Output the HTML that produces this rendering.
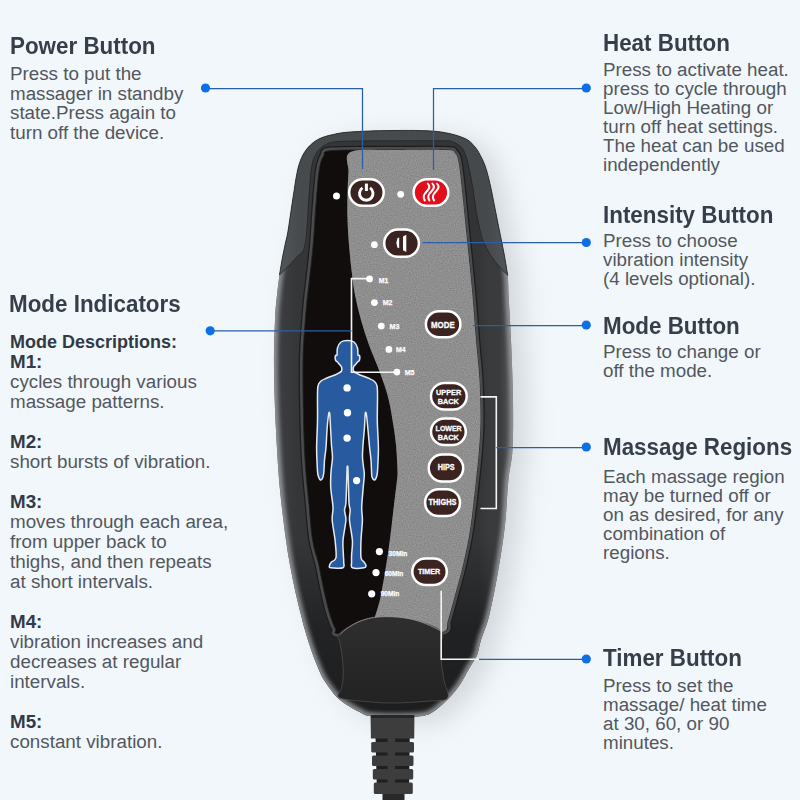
<!DOCTYPE html>
<html><head><meta charset="utf-8">
<style>
html,body{margin:0;padding:0;}
body{width:800px;height:800px;overflow:hidden;position:relative;background:#f2f7fb;font-family:"Liberation Sans",sans-serif;}
svg{position:absolute;left:0;top:0;}
.t{position:absolute;white-space:pre;color:#52575d;font-size:18.8px;line-height:19.5px;}
.h{position:absolute;white-space:pre;color:#363f49;font-size:22.4px;font-weight:bold;line-height:24px;transform:scaleY(1.06);transform-origin:0 19.8px;}
.b{font-weight:bold;color:#323b45;}
</style></head>
<body>
<svg width="800" height="800" viewBox="0 0 800 800">
<!-- REMOTE -->
<g id="remote">
<defs>
<linearGradient id="bodyg" gradientUnits="userSpaceOnUse" x1="273" y1="0" x2="514" y2="0">
<stop offset="0" stop-color="#404144"/>
<stop offset="0.1" stop-color="#353638"/>
<stop offset="0.85" stop-color="#333436"/>
<stop offset="0.9" stop-color="#3a3b3d"/>
<stop offset="0.94" stop-color="#3a3b3d"/>
<stop offset="1" stop-color="#5a5b5e"/>
</linearGradient>
<linearGradient id="lowg" gradientUnits="userSpaceOnUse" x1="0" y1="540" x2="0" y2="716">
<stop offset="0" stop-color="#000" stop-opacity="0"/>
<stop offset="0.5" stop-color="#000" stop-opacity="0.35"/>
<stop offset="1" stop-color="#000" stop-opacity="0.45"/>
</linearGradient>
<linearGradient id="shellg" gradientUnits="userSpaceOnUse" x1="275" y1="0" x2="510" y2="0">
<stop offset="0" stop-color="#55585b"/>
<stop offset="0.1" stop-color="#484b4e"/>
<stop offset="0.9" stop-color="#46494c"/>
<stop offset="1" stop-color="#53565a"/>
</linearGradient>
<linearGradient id="bulbg" x1="0" y1="0" x2="0" y2="1">
<stop offset="0" stop-color="#2e2e2f"/>
<stop offset="1" stop-color="#232324"/>
</linearGradient>
<clipPath id="bodyclip"><path d="M392.0,130.5 C406.5,130.4 425.0,130.2 437.0,131.5 C449.0,132.8 457.5,135.4 463.8,138.0 C470.1,140.6 472.0,143.6 475.0,147.0 C478.0,150.4 479.9,154.6 481.8,158.3 C483.7,162.1 484.8,164.6 486.3,169.5 C487.8,174.4 489.3,180.8 490.8,187.6 C492.3,194.3 493.8,202.5 495.3,210.0 C496.8,217.5 498.3,225.1 499.8,232.6 C501.3,240.1 503.0,247.9 504.3,255.0 C505.6,262.1 506.9,267.9 507.7,275.4 C508.4,282.9 508.2,289.2 508.8,300.0 C509.4,310.8 510.3,323.3 511.0,340.0 C511.7,356.7 512.8,381.7 513.0,400.0 C513.2,418.3 513.3,436.7 512.5,450.0 C511.7,463.3 509.6,467.5 508.4,480.0 C507.1,492.5 506.7,510.0 505.0,525.0 C503.3,540.0 500.9,555.0 498.3,570.0 C495.7,585.0 492.2,603.3 489.3,615.0 C486.4,626.7 483.1,633.2 481.0,640.0 C478.9,646.8 478.7,651.1 476.9,655.6 C475.1,660.1 472.4,662.9 470.0,667.0 C467.6,671.1 465.0,676.2 462.7,680.0 C460.4,683.8 458.6,686.7 456.0,690.0 C453.4,693.3 450.4,696.7 447.0,700.0 C443.6,703.3 439.4,707.4 435.7,710.0 C431.9,712.6 430.4,714.3 424.5,715.5 C418.6,716.7 409.1,716.9 400.0,717.0 C390.9,717.1 376.4,716.8 369.7,716.0 C363.0,715.2 363.4,713.8 359.6,712.0 C355.8,710.2 350.6,707.3 347.0,705.0 C343.4,702.7 340.4,700.5 337.7,698.0 C335.0,695.5 333.3,693.0 331.0,690.0 C328.7,687.0 326.0,683.3 324.0,680.0 C322.0,676.7 321.1,675.0 319.0,670.0 C316.9,665.0 313.5,656.7 311.2,650.0 C308.9,643.3 306.7,635.8 305.0,630.0 C303.3,624.2 302.7,621.7 301.0,615.0 C299.3,608.3 296.8,598.3 295.0,590.0 C293.2,581.7 291.5,573.3 290.0,565.0 C288.5,556.7 287.7,552.5 286.0,540.0 C284.3,527.5 281.7,508.3 280.0,490.0 C278.3,471.7 277.0,450.0 276.0,430.0 C275.0,410.0 274.2,388.3 274.0,370.0 C273.8,351.7 274.5,332.5 275.0,320.0 C275.5,307.5 276.2,302.5 277.0,295.0 C277.8,287.5 278.7,280.8 279.5,275.0 C280.3,269.2 281.1,265.0 282.0,260.0 C282.9,255.0 284.1,249.5 285.0,245.0 C285.9,240.5 286.9,237.5 287.7,233.0 C288.5,228.5 289.2,223.0 290.0,218.0 C290.8,213.0 291.4,208.0 292.2,203.0 C292.9,198.0 293.8,192.8 294.5,188.0 C295.2,183.2 295.8,178.8 296.7,174.5 C297.6,170.2 298.4,166.1 299.7,162.5 C300.9,158.9 302.3,155.7 304.2,152.7 C306.1,149.7 308.4,146.9 311.0,144.5 C313.6,142.1 316.5,140.1 320.0,138.5 C323.5,136.9 327.0,135.8 332.0,134.8 C337.0,133.7 340.0,132.7 350.0,132.0 C360.0,131.3 377.5,130.6 392.0,130.5 Z"/></clipPath>
<filter id="soft" x="-0.1" y="-0.1" width="1.2" height="1.2"><feGaussianBlur stdDeviation="2.2"/></filter>
<filter id="grain" x="0" y="0" width="1" height="1" color-interpolation-filters="sRGB"><feTurbulence type="fractalNoise" baseFrequency="0.85" numOctaves="1" seed="4"/><feColorMatrix type="matrix" values="0.33 0.33 0.33 0 0  0.33 0.33 0.33 0 0  0.33 0.33 0.33 0 0  0 0 0 0 0.32"/><feComposite in2="SourceGraphic" operator="in"/></filter>
<filter id="blur" x="-0.3" y="-0.3" width="1.6" height="1.6"><feGaussianBlur stdDeviation="13"/></filter>
</defs>
<!-- shadow -->
<path d="M392.0,130.5 C406.5,130.4 425.0,130.2 437.0,131.5 C449.0,132.8 457.5,135.4 463.8,138.0 C470.1,140.6 472.0,143.6 475.0,147.0 C478.0,150.4 479.9,154.6 481.8,158.3 C483.7,162.1 484.8,164.6 486.3,169.5 C487.8,174.4 489.3,180.8 490.8,187.6 C492.3,194.3 493.8,202.5 495.3,210.0 C496.8,217.5 498.3,225.1 499.8,232.6 C501.3,240.1 503.0,247.9 504.3,255.0 C505.6,262.1 506.9,267.9 507.7,275.4 C508.4,282.9 508.2,289.2 508.8,300.0 C509.4,310.8 510.3,323.3 511.0,340.0 C511.7,356.7 512.8,381.7 513.0,400.0 C513.2,418.3 513.3,436.7 512.5,450.0 C511.7,463.3 509.6,467.5 508.4,480.0 C507.1,492.5 506.7,510.0 505.0,525.0 C503.3,540.0 500.9,555.0 498.3,570.0 C495.7,585.0 492.2,603.3 489.3,615.0 C486.4,626.7 483.1,633.2 481.0,640.0 C478.9,646.8 478.7,651.1 476.9,655.6 C475.1,660.1 472.4,662.9 470.0,667.0 C467.6,671.1 465.0,676.2 462.7,680.0 C460.4,683.8 458.6,686.7 456.0,690.0 C453.4,693.3 450.4,696.7 447.0,700.0 C443.6,703.3 439.4,707.4 435.7,710.0 C431.9,712.6 430.4,714.3 424.5,715.5 C418.6,716.7 409.1,716.9 400.0,717.0 C390.9,717.1 376.4,716.8 369.7,716.0 C363.0,715.2 363.4,713.8 359.6,712.0 C355.8,710.2 350.6,707.3 347.0,705.0 C343.4,702.7 340.4,700.5 337.7,698.0 C335.0,695.5 333.3,693.0 331.0,690.0 C328.7,687.0 326.0,683.3 324.0,680.0 C322.0,676.7 321.1,675.0 319.0,670.0 C316.9,665.0 313.5,656.7 311.2,650.0 C308.9,643.3 306.7,635.8 305.0,630.0 C303.3,624.2 302.7,621.7 301.0,615.0 C299.3,608.3 296.8,598.3 295.0,590.0 C293.2,581.7 291.5,573.3 290.0,565.0 C288.5,556.7 287.7,552.5 286.0,540.0 C284.3,527.5 281.7,508.3 280.0,490.0 C278.3,471.7 277.0,450.0 276.0,430.0 C275.0,410.0 274.2,388.3 274.0,370.0 C273.8,351.7 274.5,332.5 275.0,320.0 C275.5,307.5 276.2,302.5 277.0,295.0 C277.8,287.5 278.7,280.8 279.5,275.0 C280.3,269.2 281.1,265.0 282.0,260.0 C282.9,255.0 284.1,249.5 285.0,245.0 C285.9,240.5 286.9,237.5 287.7,233.0 C288.5,228.5 289.2,223.0 290.0,218.0 C290.8,213.0 291.4,208.0 292.2,203.0 C292.9,198.0 293.8,192.8 294.5,188.0 C295.2,183.2 295.8,178.8 296.7,174.5 C297.6,170.2 298.4,166.1 299.7,162.5 C300.9,158.9 302.3,155.7 304.2,152.7 C306.1,149.7 308.4,146.9 311.0,144.5 C313.6,142.1 316.5,140.1 320.0,138.5 C323.5,136.9 327.0,135.8 332.0,134.8 C337.0,133.7 340.0,132.7 350.0,132.0 C360.0,131.3 377.5,130.6 392.0,130.5 Z" fill="#b4b9bf" opacity="0.5" transform="translate(14,6)" filter="url(#blur)"/>
<!-- outer body -->
<path d="M392.0,130.5 C406.5,130.4 425.0,130.2 437.0,131.5 C449.0,132.8 457.5,135.4 463.8,138.0 C470.1,140.6 472.0,143.6 475.0,147.0 C478.0,150.4 479.9,154.6 481.8,158.3 C483.7,162.1 484.8,164.6 486.3,169.5 C487.8,174.4 489.3,180.8 490.8,187.6 C492.3,194.3 493.8,202.5 495.3,210.0 C496.8,217.5 498.3,225.1 499.8,232.6 C501.3,240.1 503.0,247.9 504.3,255.0 C505.6,262.1 506.9,267.9 507.7,275.4 C508.4,282.9 508.2,289.2 508.8,300.0 C509.4,310.8 510.3,323.3 511.0,340.0 C511.7,356.7 512.8,381.7 513.0,400.0 C513.2,418.3 513.3,436.7 512.5,450.0 C511.7,463.3 509.6,467.5 508.4,480.0 C507.1,492.5 506.7,510.0 505.0,525.0 C503.3,540.0 500.9,555.0 498.3,570.0 C495.7,585.0 492.2,603.3 489.3,615.0 C486.4,626.7 483.1,633.2 481.0,640.0 C478.9,646.8 478.7,651.1 476.9,655.6 C475.1,660.1 472.4,662.9 470.0,667.0 C467.6,671.1 465.0,676.2 462.7,680.0 C460.4,683.8 458.6,686.7 456.0,690.0 C453.4,693.3 450.4,696.7 447.0,700.0 C443.6,703.3 439.4,707.4 435.7,710.0 C431.9,712.6 430.4,714.3 424.5,715.5 C418.6,716.7 409.1,716.9 400.0,717.0 C390.9,717.1 376.4,716.8 369.7,716.0 C363.0,715.2 363.4,713.8 359.6,712.0 C355.8,710.2 350.6,707.3 347.0,705.0 C343.4,702.7 340.4,700.5 337.7,698.0 C335.0,695.5 333.3,693.0 331.0,690.0 C328.7,687.0 326.0,683.3 324.0,680.0 C322.0,676.7 321.1,675.0 319.0,670.0 C316.9,665.0 313.5,656.7 311.2,650.0 C308.9,643.3 306.7,635.8 305.0,630.0 C303.3,624.2 302.7,621.7 301.0,615.0 C299.3,608.3 296.8,598.3 295.0,590.0 C293.2,581.7 291.5,573.3 290.0,565.0 C288.5,556.7 287.7,552.5 286.0,540.0 C284.3,527.5 281.7,508.3 280.0,490.0 C278.3,471.7 277.0,450.0 276.0,430.0 C275.0,410.0 274.2,388.3 274.0,370.0 C273.8,351.7 274.5,332.5 275.0,320.0 C275.5,307.5 276.2,302.5 277.0,295.0 C277.8,287.5 278.7,280.8 279.5,275.0 C280.3,269.2 281.1,265.0 282.0,260.0 C282.9,255.0 284.1,249.5 285.0,245.0 C285.9,240.5 286.9,237.5 287.7,233.0 C288.5,228.5 289.2,223.0 290.0,218.0 C290.8,213.0 291.4,208.0 292.2,203.0 C292.9,198.0 293.8,192.8 294.5,188.0 C295.2,183.2 295.8,178.8 296.7,174.5 C297.6,170.2 298.4,166.1 299.7,162.5 C300.9,158.9 302.3,155.7 304.2,152.7 C306.1,149.7 308.4,146.9 311.0,144.5 C313.6,142.1 316.5,140.1 320.0,138.5 C323.5,136.9 327.0,135.8 332.0,134.8 C337.0,133.7 340.0,132.7 350.0,132.0 C360.0,131.3 377.5,130.6 392.0,130.5 Z" fill="url(#bodyg)"/>
<path d="M392.0,130.5 C406.5,130.4 425.0,130.2 437.0,131.5 C449.0,132.8 457.5,135.4 463.8,138.0 C470.1,140.6 472.0,143.6 475.0,147.0 C478.0,150.4 479.9,154.6 481.8,158.3 C483.7,162.1 484.8,164.6 486.3,169.5 C487.8,174.4 489.3,180.8 490.8,187.6 C492.3,194.3 493.8,202.5 495.3,210.0 C496.8,217.5 498.3,225.1 499.8,232.6 C501.3,240.1 503.0,247.9 504.3,255.0 C505.6,262.1 506.9,267.9 507.7,275.4 C508.4,282.9 508.2,289.2 508.8,300.0 C509.4,310.8 510.3,323.3 511.0,340.0 C511.7,356.7 512.8,381.7 513.0,400.0 C513.2,418.3 513.3,436.7 512.5,450.0 C511.7,463.3 509.6,467.5 508.4,480.0 C507.1,492.5 506.7,510.0 505.0,525.0 C503.3,540.0 500.9,555.0 498.3,570.0 C495.7,585.0 492.2,603.3 489.3,615.0 C486.4,626.7 483.1,633.2 481.0,640.0 C478.9,646.8 478.7,651.1 476.9,655.6 C475.1,660.1 472.4,662.9 470.0,667.0 C467.6,671.1 465.0,676.2 462.7,680.0 C460.4,683.8 458.6,686.7 456.0,690.0 C453.4,693.3 450.4,696.7 447.0,700.0 C443.6,703.3 439.4,707.4 435.7,710.0 C431.9,712.6 430.4,714.3 424.5,715.5 C418.6,716.7 409.1,716.9 400.0,717.0 C390.9,717.1 376.4,716.8 369.7,716.0 C363.0,715.2 363.4,713.8 359.6,712.0 C355.8,710.2 350.6,707.3 347.0,705.0 C343.4,702.7 340.4,700.5 337.7,698.0 C335.0,695.5 333.3,693.0 331.0,690.0 C328.7,687.0 326.0,683.3 324.0,680.0 C322.0,676.7 321.1,675.0 319.0,670.0 C316.9,665.0 313.5,656.7 311.2,650.0 C308.9,643.3 306.7,635.8 305.0,630.0 C303.3,624.2 302.7,621.7 301.0,615.0 C299.3,608.3 296.8,598.3 295.0,590.0 C293.2,581.7 291.5,573.3 290.0,565.0 C288.5,556.7 287.7,552.5 286.0,540.0 C284.3,527.5 281.7,508.3 280.0,490.0 C278.3,471.7 277.0,450.0 276.0,430.0 C275.0,410.0 274.2,388.3 274.0,370.0 C273.8,351.7 274.5,332.5 275.0,320.0 C275.5,307.5 276.2,302.5 277.0,295.0 C277.8,287.5 278.7,280.8 279.5,275.0 C280.3,269.2 281.1,265.0 282.0,260.0 C282.9,255.0 284.1,249.5 285.0,245.0 C285.9,240.5 286.9,237.5 287.7,233.0 C288.5,228.5 289.2,223.0 290.0,218.0 C290.8,213.0 291.4,208.0 292.2,203.0 C292.9,198.0 293.8,192.8 294.5,188.0 C295.2,183.2 295.8,178.8 296.7,174.5 C297.6,170.2 298.4,166.1 299.7,162.5 C300.9,158.9 302.3,155.7 304.2,152.7 C306.1,149.7 308.4,146.9 311.0,144.5 C313.6,142.1 316.5,140.1 320.0,138.5 C323.5,136.9 327.0,135.8 332.0,134.8 C337.0,133.7 340.0,132.7 350.0,132.0 C360.0,131.3 377.5,130.6 392.0,130.5 Z" fill="url(#lowg)"/>
<g clip-path="url(#bodyclip)"><path d="M392.0,130.5 C406.5,130.4 425.0,130.2 437.0,131.5 C449.0,132.8 457.5,135.4 463.8,138.0 C470.1,140.6 472.0,143.6 475.0,147.0 C478.0,150.4 479.9,154.6 481.8,158.3 C483.7,162.1 484.8,164.6 486.3,169.5 C487.8,174.4 489.3,180.8 490.8,187.6 C492.3,194.3 493.8,202.5 495.3,210.0 C496.8,217.5 498.3,225.1 499.8,232.6 C501.3,240.1 503.0,247.9 504.3,255.0 C505.6,262.1 506.9,267.9 507.7,275.4 C508.4,282.9 508.2,289.2 508.8,300.0 C509.4,310.8 510.3,323.3 511.0,340.0 C511.7,356.7 512.8,381.7 513.0,400.0 C513.2,418.3 513.3,436.7 512.5,450.0 C511.7,463.3 509.6,467.5 508.4,480.0 C507.1,492.5 506.7,510.0 505.0,525.0 C503.3,540.0 500.9,555.0 498.3,570.0 C495.7,585.0 492.2,603.3 489.3,615.0 C486.4,626.7 483.1,633.2 481.0,640.0 C478.9,646.8 478.7,651.1 476.9,655.6 C475.1,660.1 472.4,662.9 470.0,667.0 C467.6,671.1 465.0,676.2 462.7,680.0 C460.4,683.8 458.6,686.7 456.0,690.0 C453.4,693.3 450.4,696.7 447.0,700.0 C443.6,703.3 439.4,707.4 435.7,710.0 C431.9,712.6 430.4,714.3 424.5,715.5 C418.6,716.7 409.1,716.9 400.0,717.0 C390.9,717.1 376.4,716.8 369.7,716.0 C363.0,715.2 363.4,713.8 359.6,712.0 C355.8,710.2 350.6,707.3 347.0,705.0 C343.4,702.7 340.4,700.5 337.7,698.0 C335.0,695.5 333.3,693.0 331.0,690.0 C328.7,687.0 326.0,683.3 324.0,680.0 C322.0,676.7 321.1,675.0 319.0,670.0 C316.9,665.0 313.5,656.7 311.2,650.0 C308.9,643.3 306.7,635.8 305.0,630.0 C303.3,624.2 302.7,621.7 301.0,615.0 C299.3,608.3 296.8,598.3 295.0,590.0 C293.2,581.7 291.5,573.3 290.0,565.0 C288.5,556.7 287.7,552.5 286.0,540.0 C284.3,527.5 281.7,508.3 280.0,490.0 C278.3,471.7 277.0,450.0 276.0,430.0 C275.0,410.0 274.2,388.3 274.0,370.0 C273.8,351.7 274.5,332.5 275.0,320.0 C275.5,307.5 276.2,302.5 277.0,295.0 C277.8,287.5 278.7,280.8 279.5,275.0 C280.3,269.2 281.1,265.0 282.0,260.0 C282.9,255.0 284.1,249.5 285.0,245.0 C285.9,240.5 286.9,237.5 287.7,233.0 C288.5,228.5 289.2,223.0 290.0,218.0 C290.8,213.0 291.4,208.0 292.2,203.0 C292.9,198.0 293.8,192.8 294.5,188.0 C295.2,183.2 295.8,178.8 296.7,174.5 C297.6,170.2 298.4,166.1 299.7,162.5 C300.9,158.9 302.3,155.7 304.2,152.7 C306.1,149.7 308.4,146.9 311.0,144.5 C313.6,142.1 316.5,140.1 320.0,138.5 C323.5,136.9 327.0,135.8 332.0,134.8 C337.0,133.7 340.0,132.7 350.0,132.0 C360.0,131.3 377.5,130.6 392.0,130.5 Z" fill="none" stroke="#9a9c9f" stroke-width="7" filter="url(#soft)" opacity="0.9"/></g>
<!-- upper shell -->
<path d="M279.5,275.0 C279.9,272.5 281.1,265.0 282.0,260.0 C282.9,255.0 284.1,249.5 285.0,245.0 C285.9,240.5 286.9,237.5 287.7,233.0 C288.5,228.5 289.2,223.0 290.0,218.0 C290.8,213.0 291.4,208.0 292.2,203.0 C292.9,198.0 293.8,192.8 294.5,188.0 C295.2,183.2 295.8,178.8 296.7,174.5 C297.6,170.2 298.4,166.1 299.7,162.5 C300.9,158.9 302.3,155.7 304.2,152.7 C306.1,149.7 308.4,146.9 311.0,144.5 C313.6,142.1 316.5,140.1 320.0,138.5 C323.5,136.9 327.0,135.8 332.0,134.8 C337.0,133.7 340.0,132.7 350.0,132.0 C360.0,131.3 377.5,130.6 392.0,130.5 C406.5,130.4 425.0,130.2 437.0,131.5 C449.0,132.8 457.5,135.4 463.8,138.0 C470.1,140.6 472.0,143.6 475.0,147.0 C478.0,150.4 479.9,154.6 481.8,158.3 C483.7,162.1 484.8,164.6 486.3,169.5 C487.8,174.4 489.3,180.8 490.8,187.6 C492.3,194.3 493.8,202.5 495.3,210.0 C496.8,217.5 498.3,225.1 499.8,232.6 C501.3,240.1 503.0,247.9 504.3,255.0 C505.6,262.1 507.1,272.0 507.7,275.4 L507.7,275.4 C505.9,273.5 500.0,267.6 497.0,264.0 C494.0,260.4 491.9,257.5 489.7,254.0 C487.5,250.5 485.5,246.6 484.0,243.0 C482.5,239.4 482.0,238.1 480.7,232.6 C479.4,227.1 477.3,217.5 476.0,210.0 C474.7,202.5 474.1,194.9 472.8,187.6 C471.6,180.3 469.7,171.4 468.5,166.0 C467.3,160.6 466.7,158.1 465.5,155.0 C464.3,151.9 463.7,149.7 461.5,147.5 C459.3,145.3 456.1,142.9 452.5,141.8 C448.9,140.7 450.1,141.0 440.0,140.8 C429.9,140.6 408.7,140.7 392.0,140.8 C375.3,140.9 351.2,140.8 340.0,141.5 C328.8,142.2 329.0,142.9 325.0,145.0 C321.0,147.1 318.2,150.2 316.0,154.0 C313.8,157.8 312.7,160.3 311.5,168.0 C310.3,175.7 309.8,187.2 308.7,200.0 C307.6,212.8 307.1,235.3 305.0,245.0 C302.9,254.7 300.2,253.0 296.0,258.0 C291.8,263.0 282.2,272.2 279.5,275.0 Z" fill="url(#shellg)" stroke="#222" stroke-width="0.8"/>
<!-- face -->
<path d="M392.0,150.0 C410.8,149.9 434.5,149.5 445.0,150.0 C455.5,150.5 452.7,150.5 455.0,153.0 C457.3,155.5 457.7,157.2 459.0,165.0 C460.3,172.8 461.7,187.5 463.0,200.0 C464.3,212.5 465.5,225.0 467.0,240.0 C468.5,255.0 470.5,273.3 472.0,290.0 C473.5,306.7 474.8,325.0 476.0,340.0 C477.2,355.0 478.8,366.7 479.5,380.0 C480.2,393.3 480.6,408.3 480.5,420.0 C480.4,431.7 479.8,440.0 479.0,450.0 C478.2,460.0 477.5,466.7 476.0,480.0 C474.5,493.3 472.2,515.8 470.0,530.0 C467.8,544.2 465.5,554.2 463.0,565.0 C460.5,575.8 457.5,585.8 455.0,595.0 C452.5,604.2 450.2,613.8 448.0,620.0 C445.8,626.2 451.3,629.7 442.0,632.0 C432.7,634.3 409.0,633.7 392.0,634.0 C375.0,634.3 349.4,634.8 340.0,634.0 C330.6,633.2 337.2,632.2 335.5,629.0 C333.8,625.8 332.0,621.5 330.0,615.0 C328.0,608.5 325.6,598.3 323.8,590.0 C321.9,581.7 320.6,573.3 318.8,565.0 C316.9,556.7 314.2,550.8 312.5,540.0 C310.8,529.2 309.8,513.3 308.5,500.0 C307.2,486.7 305.9,475.0 305.0,460.0 C304.1,445.0 303.6,426.7 303.3,410.0 C303.0,393.3 302.8,373.3 303.0,360.0 C303.2,346.7 303.8,340.0 304.5,330.0 C305.2,320.0 306.0,310.0 307.0,300.0 C308.0,290.0 309.4,280.0 310.5,270.0 C311.6,260.0 312.7,250.0 313.5,240.0 C314.3,230.0 314.8,219.2 315.5,210.0 C316.2,200.8 316.8,192.0 317.5,185.0 C318.2,178.0 318.5,172.8 319.5,168.0 C320.5,163.2 321.4,158.9 323.5,156.0 C325.6,153.1 320.6,151.5 332.0,150.5 C343.4,149.5 373.2,150.1 392.0,150.0 Z" fill="none" stroke="#1d1d1f" stroke-width="8.5"/>
<path d="M392.0,150.0 C410.8,149.9 434.5,149.5 445.0,150.0 C455.5,150.5 452.7,150.5 455.0,153.0 C457.3,155.5 457.7,157.2 459.0,165.0 C460.3,172.8 461.7,187.5 463.0,200.0 C464.3,212.5 465.5,225.0 467.0,240.0 C468.5,255.0 470.5,273.3 472.0,290.0 C473.5,306.7 474.8,325.0 476.0,340.0 C477.2,355.0 478.8,366.7 479.5,380.0 C480.2,393.3 480.6,408.3 480.5,420.0 C480.4,431.7 479.8,440.0 479.0,450.0 C478.2,460.0 477.5,466.7 476.0,480.0 C474.5,493.3 472.2,515.8 470.0,530.0 C467.8,544.2 465.5,554.2 463.0,565.0 C460.5,575.8 457.5,585.8 455.0,595.0 C452.5,604.2 450.2,613.8 448.0,620.0 C445.8,626.2 451.3,629.7 442.0,632.0 C432.7,634.3 409.0,633.7 392.0,634.0 C375.0,634.3 349.4,634.8 340.0,634.0 C330.6,633.2 337.2,632.2 335.5,629.0 C333.8,625.8 332.0,621.5 330.0,615.0 C328.0,608.5 325.6,598.3 323.8,590.0 C321.9,581.7 320.6,573.3 318.8,565.0 C316.9,556.7 314.2,550.8 312.5,540.0 C310.8,529.2 309.8,513.3 308.5,500.0 C307.2,486.7 305.9,475.0 305.0,460.0 C304.1,445.0 303.6,426.7 303.3,410.0 C303.0,393.3 302.8,373.3 303.0,360.0 C303.2,346.7 303.8,340.0 304.5,330.0 C305.2,320.0 306.0,310.0 307.0,300.0 C308.0,290.0 309.4,280.0 310.5,270.0 C311.6,260.0 312.7,250.0 313.5,240.0 C314.3,230.0 314.8,219.2 315.5,210.0 C316.2,200.8 316.8,192.0 317.5,185.0 C318.2,178.0 318.5,172.8 319.5,168.0 C320.5,163.2 321.4,158.9 323.5,156.0 C325.6,153.1 320.6,151.5 332.0,150.5 C343.4,149.5 373.2,150.1 392.0,150.0 Z" fill="none" stroke="#4a4b4d" stroke-width="6"/>
<path d="M392.0,150.0 C410.8,149.9 434.5,149.5 445.0,150.0 C455.5,150.5 452.7,150.5 455.0,153.0 C457.3,155.5 457.7,157.2 459.0,165.0 C460.3,172.8 461.7,187.5 463.0,200.0 C464.3,212.5 465.5,225.0 467.0,240.0 C468.5,255.0 470.5,273.3 472.0,290.0 C473.5,306.7 474.8,325.0 476.0,340.0 C477.2,355.0 478.8,366.7 479.5,380.0 C480.2,393.3 480.6,408.3 480.5,420.0 C480.4,431.7 479.8,440.0 479.0,450.0 C478.2,460.0 477.5,466.7 476.0,480.0 C474.5,493.3 472.2,515.8 470.0,530.0 C467.8,544.2 465.5,554.2 463.0,565.0 C460.5,575.8 457.5,585.8 455.0,595.0 C452.5,604.2 450.2,613.8 448.0,620.0 C445.8,626.2 451.3,629.7 442.0,632.0 C432.7,634.3 409.0,633.7 392.0,634.0 C375.0,634.3 349.4,634.8 340.0,634.0 C330.6,633.2 337.2,632.2 335.5,629.0 C333.8,625.8 332.0,621.5 330.0,615.0 C328.0,608.5 325.6,598.3 323.8,590.0 C321.9,581.7 320.6,573.3 318.8,565.0 C316.9,556.7 314.2,550.8 312.5,540.0 C310.8,529.2 309.8,513.3 308.5,500.0 C307.2,486.7 305.9,475.0 305.0,460.0 C304.1,445.0 303.6,426.7 303.3,410.0 C303.0,393.3 302.8,373.3 303.0,360.0 C303.2,346.7 303.8,340.0 304.5,330.0 C305.2,320.0 306.0,310.0 307.0,300.0 C308.0,290.0 309.4,280.0 310.5,270.0 C311.6,260.0 312.7,250.0 313.5,240.0 C314.3,230.0 314.8,219.2 315.5,210.0 C316.2,200.8 316.8,192.0 317.5,185.0 C318.2,178.0 318.5,172.8 319.5,168.0 C320.5,163.2 321.4,158.9 323.5,156.0 C325.6,153.1 320.6,151.5 332.0,150.5 C343.4,149.5 373.2,150.1 392.0,150.0 Z" fill="#120d0d" stroke="#222" stroke-width="0.8"/>
<path d="M392.0,150.0 C407.8,149.7 434.5,149.5 445.0,150.0 C455.5,150.5 452.7,150.5 455.0,153.0 C457.3,155.5 457.7,157.2 459.0,165.0 C460.3,172.8 461.7,187.5 463.0,200.0 C464.3,212.5 465.5,225.0 467.0,240.0 C468.5,255.0 470.5,273.3 472.0,290.0 C473.5,306.7 474.8,325.0 476.0,340.0 C477.2,355.0 478.8,366.7 479.5,380.0 C480.2,393.3 480.6,408.3 480.5,420.0 C480.4,431.7 479.8,440.0 479.0,450.0 C478.2,460.0 477.5,466.7 476.0,480.0 C474.5,493.3 472.2,515.8 470.0,530.0 C467.8,544.2 465.5,554.2 463.0,565.0 C460.5,575.8 457.5,585.8 455.0,595.0 C452.5,604.2 450.2,613.8 448.0,620.0 C445.8,626.2 450.0,629.7 442.0,632.0 C434.0,634.3 411.8,633.7 400.0,634.0 C388.2,634.3 375.7,634.7 371.0,634.0 C366.3,633.3 371.3,632.8 372.0,630.0 C372.7,627.2 373.5,622.8 375.0,617.0 C376.5,611.2 378.8,606.2 381.0,595.0 C383.2,583.8 386.3,565.0 388.5,550.0 C390.7,535.0 392.6,516.7 394.0,505.0 C395.4,493.3 396.4,485.8 397.0,480.0 C397.6,474.2 397.7,475.8 397.5,470.0 C397.3,464.2 396.8,453.3 396.0,445.0 C395.2,436.7 393.9,428.3 392.5,420.0 C391.1,411.7 389.8,403.3 387.5,395.0 C385.2,386.7 382.1,378.3 379.0,370.0 C375.9,361.7 372.0,353.3 369.0,345.0 C366.0,336.7 363.3,328.3 361.0,320.0 C358.7,311.7 356.6,303.3 355.0,295.0 C353.4,286.7 352.5,278.3 351.5,270.0 C350.5,261.7 349.7,253.3 349.0,245.0 C348.3,236.7 347.8,228.3 347.5,220.0 C347.2,211.7 347.3,203.0 347.5,195.0 C347.7,187.0 348.0,179.2 348.5,172.0 C349.0,164.8 343.2,155.7 350.5,152.0 C357.8,148.3 376.2,150.3 392.0,150.0 Z" fill="#979797"/>
<path d="M392.0,150.0 C407.8,149.7 434.5,149.5 445.0,150.0 C455.5,150.5 452.7,150.5 455.0,153.0 C457.3,155.5 457.7,157.2 459.0,165.0 C460.3,172.8 461.7,187.5 463.0,200.0 C464.3,212.5 465.5,225.0 467.0,240.0 C468.5,255.0 470.5,273.3 472.0,290.0 C473.5,306.7 474.8,325.0 476.0,340.0 C477.2,355.0 478.8,366.7 479.5,380.0 C480.2,393.3 480.6,408.3 480.5,420.0 C480.4,431.7 479.8,440.0 479.0,450.0 C478.2,460.0 477.5,466.7 476.0,480.0 C474.5,493.3 472.2,515.8 470.0,530.0 C467.8,544.2 465.5,554.2 463.0,565.0 C460.5,575.8 457.5,585.8 455.0,595.0 C452.5,604.2 450.2,613.8 448.0,620.0 C445.8,626.2 450.0,629.7 442.0,632.0 C434.0,634.3 411.8,633.7 400.0,634.0 C388.2,634.3 375.7,634.7 371.0,634.0 C366.3,633.3 371.3,632.8 372.0,630.0 C372.7,627.2 373.5,622.8 375.0,617.0 C376.5,611.2 378.8,606.2 381.0,595.0 C383.2,583.8 386.3,565.0 388.5,550.0 C390.7,535.0 392.6,516.7 394.0,505.0 C395.4,493.3 396.4,485.8 397.0,480.0 C397.6,474.2 397.7,475.8 397.5,470.0 C397.3,464.2 396.8,453.3 396.0,445.0 C395.2,436.7 393.9,428.3 392.5,420.0 C391.1,411.7 389.8,403.3 387.5,395.0 C385.2,386.7 382.1,378.3 379.0,370.0 C375.9,361.7 372.0,353.3 369.0,345.0 C366.0,336.7 363.3,328.3 361.0,320.0 C358.7,311.7 356.6,303.3 355.0,295.0 C353.4,286.7 352.5,278.3 351.5,270.0 C350.5,261.7 349.7,253.3 349.0,245.0 C348.3,236.7 347.8,228.3 347.5,220.0 C347.2,211.7 347.3,203.0 347.5,195.0 C347.7,187.0 348.0,179.2 348.5,172.0 C349.0,164.8 343.2,155.7 350.5,152.0 C357.8,148.3 376.2,150.3 392.0,150.0 Z" fill="#000" filter="url(#grain)"/>
<!-- bulb -->
<path d="M338.8,634.0 C341.8,630.7 351.3,624.8 358.0,622.0 C364.7,619.2 371.2,617.7 378.8,617.0 C386.4,616.3 395.9,617.0 403.6,618.0 C411.3,619.0 418.7,620.8 425.0,623.0 C431.3,625.2 438.8,627.8 441.5,631.5 C444.2,635.2 441.1,640.2 441.0,645.0 C440.9,649.8 440.7,654.2 441.2,660.0 C441.7,665.8 442.9,673.7 444.0,680.0 C445.1,686.3 449.9,694.5 447.6,698.0 C445.3,701.5 439.3,700.2 430.0,701.0 C420.7,701.8 403.7,703.0 392.0,703.0 C380.3,703.0 368.9,701.9 360.0,701.0 C351.1,700.1 341.9,699.7 338.8,697.5 C335.7,695.3 340.8,691.8 341.5,688.0 C342.2,684.2 343.2,680.5 343.3,675.0 C343.4,669.5 342.6,660.5 342.0,655.0 C341.4,649.5 340.3,645.5 339.8,642.0 C339.3,638.5 335.8,637.3 338.8,634.0 Z" fill="url(#bulbg)" stroke="#5a5a5b" stroke-width="0.6"/>
<path d="M339.5,635 C345,629 352,625 358,622 C365,619 372,617.2 379,616.8 C388,616.3 397,616.6 404,617.6 C414,619 425,622.5 441,631" fill="none" stroke="#a0a0a0" stroke-width="0.9" opacity="0.8"/>
<!-- cable -->
<rect x="382.5" y="790" width="22" height="10" fill="#29292a"/>
<path d="M375,716 L410,716 L409,794 L377,794 Z" fill="#1f1f20"/>
<rect x="370.6" y="715" width="43.8" height="3.5" rx="1" fill="#262627"/>
<g fill="#3d3d3e">
<path d="M370.6,718 L414.4,718 L414.2,738.6 L370.9,738.6 Z"/>
<rect x="371.2" y="742" width="42.8" height="10.5" rx="1.5"/>
<rect x="372" y="755.5" width="41.5" height="10.5" rx="1.5"/>
<rect x="372.8" y="769" width="40.4" height="10.5" rx="1.5"/>
<rect x="373.8" y="782.5" width="39" height="11.5" rx="1.5"/>
<rect x="387.5" y="736" width="7.5" height="50"/>
</g>
<!-- human figure -->
<path d="M347.5,340.6 C349.7,340.6 352.3,340.8 354.0,342.0 C355.7,343.2 356.8,345.8 357.5,348.0 C358.2,350.2 357.7,353.8 358.0,355.0 C358.3,356.2 359.2,354.7 359.5,355.5 C359.8,356.3 359.8,358.9 359.5,360.0 C359.2,361.1 358.2,361.2 357.5,362.0 C356.8,362.8 356.2,363.7 355.5,364.5 C354.8,365.3 353.8,365.9 353.5,367.0 C353.2,368.1 352.8,369.8 353.5,371.0 C354.2,372.2 355.6,372.8 358.0,374.0 C360.4,375.2 365.3,376.8 368.0,378.0 C370.7,379.2 372.5,379.7 374.0,381.0 C375.5,382.3 376.4,383.7 377.0,386.0 C377.6,388.3 377.4,389.3 377.5,395.0 C377.6,400.7 377.2,411.2 377.3,420.0 C377.4,428.8 378.3,439.8 378.4,447.5 C378.5,455.2 378.0,461.4 377.8,466.0 C377.6,470.6 377.5,472.7 377.0,475.0 C376.5,477.3 375.4,479.7 374.6,480.0 C373.8,480.3 372.5,478.7 372.0,477.0 C371.5,475.3 371.7,472.8 371.5,470.0 C371.3,467.2 371.3,463.8 371.0,460.0 C370.7,456.2 370.1,452.5 369.6,447.5 C369.1,442.5 368.5,435.4 368.0,430.0 C367.5,424.6 366.9,417.8 366.5,415.0 C366.1,412.2 365.7,411.2 365.3,413.5 C364.9,415.8 364.8,423.5 364.4,428.8 C364.0,434.0 363.3,440.3 363.0,445.0 C362.7,449.7 362.4,453.3 362.5,457.0 C362.6,460.7 363.2,464.0 363.5,467.0 C363.8,470.0 364.4,471.4 364.3,475.0 C364.2,478.6 363.5,483.3 363.1,488.7 C362.7,494.1 361.8,502.1 361.7,507.4 C361.6,512.7 362.5,514.8 362.4,520.3 C362.3,525.8 361.2,534.3 361.0,540.5 C360.8,546.7 360.5,554.1 361.0,557.7 C361.5,561.3 363.2,560.7 364.0,562.0 C364.8,563.3 366.0,564.5 366.0,565.5 C366.0,566.5 366.3,567.4 364.0,567.8 C361.7,568.2 354.5,568.8 352.4,567.8 C350.3,566.8 351.7,564.1 351.6,562.0 C351.5,559.9 351.5,558.6 351.6,555.0 C351.7,551.4 352.8,546.3 352.4,540.5 C352.0,534.7 349.9,525.3 349.5,520.3 C349.1,515.3 350.3,513.2 350.2,510.3 C350.1,507.4 349.3,508.1 349.0,503.0 C348.7,497.9 348.5,485.9 348.3,480.0 C348.1,474.1 348.0,469.8 347.9,467.5 C347.8,465.2 347.6,466.5 347.5,466.5 C347.4,466.5 347.2,465.2 347.1,467.5 C347.0,469.8 346.9,474.1 346.7,480.0 C346.5,485.9 346.3,497.9 345.9,503.0 C345.5,508.1 344.5,507.4 344.5,510.3 C344.5,513.2 346.1,515.3 345.9,520.3 C345.6,525.3 343.4,534.7 343.0,540.5 C342.6,546.3 343.3,551.4 343.4,555.0 C343.5,558.6 343.8,559.9 343.7,562.0 C343.6,564.1 345.1,566.8 343.0,567.8 C340.9,568.8 333.1,568.2 330.8,567.8 C328.6,567.4 329.4,566.5 329.5,565.5 C329.6,564.5 330.4,563.3 331.5,562.0 C332.6,560.7 335.4,561.3 336.0,557.7 C336.6,554.1 335.7,546.7 335.1,540.5 C334.5,534.3 332.6,525.8 332.2,520.3 C331.8,514.8 333.2,512.7 333.0,507.4 C332.8,502.1 331.2,494.1 330.8,488.7 C330.4,483.3 330.7,478.6 330.8,475.0 C330.9,471.4 331.2,470.0 331.5,467.0 C331.8,464.0 332.5,460.7 332.5,457.0 C332.5,453.3 331.8,449.7 331.5,445.0 C331.2,440.3 330.9,434.0 330.6,428.8 C330.3,423.5 330.1,415.8 329.7,413.5 C329.3,411.2 328.9,412.2 328.5,415.0 C328.1,417.8 327.4,424.6 327.0,430.0 C326.6,435.4 326.4,442.5 326.0,447.5 C325.6,452.5 324.8,456.2 324.5,460.0 C324.2,463.8 324.2,467.2 324.0,470.0 C323.8,472.8 323.6,475.3 323.0,477.0 C322.4,478.7 321.3,480.3 320.5,480.0 C319.7,479.7 318.6,477.3 318.0,475.0 C317.4,472.7 317.4,470.6 317.2,466.0 C317.0,461.4 316.6,455.2 316.6,447.5 C316.7,439.8 317.4,428.8 317.5,420.0 C317.6,411.2 317.4,400.7 317.5,395.0 C317.6,389.3 317.4,388.3 318.0,386.0 C318.6,383.7 319.5,382.3 321.0,381.0 C322.5,379.7 324.3,379.2 327.0,378.0 C329.7,376.8 334.6,375.2 337.0,374.0 C339.4,372.8 340.8,372.2 341.5,371.0 C342.2,369.8 341.8,368.1 341.5,367.0 C341.2,365.9 340.2,365.3 339.5,364.5 C338.8,363.7 338.2,362.8 337.5,362.0 C336.8,361.2 335.8,361.1 335.5,360.0 C335.2,358.9 335.2,356.3 335.5,355.5 C335.8,354.7 336.7,356.2 337.0,355.0 C337.3,353.8 336.8,350.2 337.5,348.0 C338.2,345.8 339.3,343.2 341.0,342.0 C342.7,340.8 345.3,340.6 347.5,340.6 Z" fill="#285a9f" stroke="#e6eaf0" stroke-width="1.5"/>
<!-- white connectors -->
<g stroke="#f4f4f4" stroke-width="1.6" fill="none">
<path d="M369.6,278.6 L351.5,278.6 L351.5,372.3 L396.9,372.3"/>
<path d="M480.5,396.9 L496.3,396.9 L496.3,508.5 L480.5,508.5"/>
<path d="M441.2,590.8 L441.2,659.3 L479,659.3"/>
</g>
<!-- blue callout lines -->
<g stroke="#2a5ea6" stroke-width="1.25" fill="none">
<path d="M205,88.5 L362.5,88.5 L362.5,169"/>
<path d="M587,88.5 L433.5,88.5 L433.5,170"/>
<path d="M587,242.6 L422.5,242.6"/>
<path d="M210,330.8 L351.5,330.8"/>
<path d="M587,325.5 L473,325.5"/>
<path d="M587,447.5 L496.3,447.5"/>
<path d="M587,659.3 L479,659.3"/>
</g>
<g fill="#0d6fe6">
<circle cx="205.5" cy="88" r="4.6"/>
<circle cx="586.3" cy="88" r="4.6"/>
<circle cx="586.3" cy="242.5" r="4.6"/>
<circle cx="210.2" cy="330.8" r="4.6"/>
<circle cx="586.3" cy="325" r="4.6"/>
<circle cx="586.3" cy="447" r="4.6"/>
<circle cx="586.3" cy="659" r="4.6"/>
</g>
<g fill="#ffffff">
<circle cx="336.5" cy="196.0" r="3.5"/><circle cx="400.7" cy="194.3" r="3.4"/><circle cx="374.4" cy="244.7" r="3.4"/><circle cx="369.6" cy="278.9" r="3.4"/><circle cx="374.4" cy="302.6" r="3.4"/><circle cx="381.3" cy="326.1" r="3.4"/><circle cx="388.9" cy="349.4" r="3.4"/><circle cx="396.9" cy="372.1" r="3.4"/><circle cx="347.1" cy="387.9" r="3.7"/><circle cx="347.5" cy="412.8" r="3.7"/><circle cx="347.1" cy="438.1" r="3.7"/><circle cx="356.6" cy="480.6" r="3.6"/><circle cx="379.4" cy="551.6" r="3.6"/><circle cx="376.0" cy="572.6" r="3.6"/><circle cx="371.7" cy="593.8" r="3.6"/>
</g>
<g fill="#ffffff" stroke="#ffffff" stroke-width="0.25" font-family="Liberation Sans" font-weight="bold">
<text x="378.8" y="282.8" textLength="9.6" lengthAdjust="spacingAndGlyphs" font-size="8.0">M1</text><text x="382.7" y="304.6" textLength="9.8" lengthAdjust="spacingAndGlyphs" font-size="8.0">M2</text><text x="389.6" y="328.6" textLength="9.8" lengthAdjust="spacingAndGlyphs" font-size="8.0">M3</text><text x="396.0" y="351.9" textLength="9.6" lengthAdjust="spacingAndGlyphs" font-size="8.0">M4</text><text x="404.7" y="375.3" textLength="9.8" lengthAdjust="spacingAndGlyphs" font-size="8.0">M5</text><text x="388.6" y="555.5" textLength="18.8" lengthAdjust="spacingAndGlyphs" font-size="6.8">30Min</text><text x="384.7" y="575.9" textLength="18.7" lengthAdjust="spacingAndGlyphs" font-size="6.8">60Min</text><text x="380.7" y="595.8" textLength="18.6" lengthAdjust="spacingAndGlyphs" font-size="6.8">90Min</text>
</g>
<g stroke="#ffffff" stroke-width="2.5">
<rect x="349.2" y="179.2" width="34.5" height="26.5" rx="13.3" fill="#3b2321"/><rect x="413.6" y="179.2" width="34.7" height="26.6" rx="13.3" fill="#e30d1c"/><rect x="384.2" y="229.6" width="34.7" height="27.2" rx="13.6" fill="#3b2321"/><rect x="425.9" y="311.2" width="34.5" height="26.0" rx="13.0" fill="#3b2321"/><rect x="431.0" y="383.1" width="35.7" height="26.5" rx="13.3" fill="#3b2321"/><rect x="431.0" y="418.6" width="34.8" height="26.5" rx="13.3" fill="#3b2321"/><rect x="428.7" y="454.6" width="34.5" height="26.9" rx="13.5" fill="#3b2321"/><rect x="425.1" y="489.2" width="34.9" height="26.9" rx="13.4" fill="#3b2321"/><rect x="412.3" y="558.6" width="34.5" height="26.3" rx="13.2" fill="#3b2321"/>
</g>
<path d="M362.5,187.9 A6.75,6.75 0 1 0 370,187.9" stroke="#ffffff" stroke-width="2.9" fill="none"/>
<rect x="364.9" y="183.4" width="3" height="7.6" rx="0.6" fill="#ffffff"/>
<g stroke="#ffffff" stroke-width="2" fill="none" stroke-linecap="round">
<path d="M427.8,183.6 C429.8,185.5 429.8,188 427.5,190.5 L425.0,193.5 C423.2,195.8 423.3,198 424.8,200.4"/><path d="M432.4,183.6 C434.4,185.5 434.4,188 432.1,190.5 L429.6,193.5 C427.8,195.8 427.9,198 429.4,200.4"/><path d="M437.0,183.6 C439.0,185.5 439.0,188 436.7,190.5 L434.2,193.5 C432.4,195.8 432.5,198 434.0,200.4"/>
</g>
<g fill="#ffffff">
<path d="M397.4,238.2 L399.2,237.6 L399.2,248.2 L397.4,247.4 L396.3,243 Z"/>
<path d="M403,236.4 L406.3,234.8 L406.3,252 L403,250.2 Z"/>
</g>
<g fill="#ffffff" stroke="#ffffff" stroke-width="0.3" font-family="Liberation Sans" font-weight="bold">
<text x="431.0" y="327.5" textLength="23.7" lengthAdjust="spacingAndGlyphs" font-size="9.4">MODE</text><text x="436.0" y="395.2" textLength="25.2" lengthAdjust="spacingAndGlyphs" font-size="8.0">UPPER</text><text x="437.7" y="404.3" textLength="21.0" lengthAdjust="spacingAndGlyphs" font-size="8.0">BACK</text><text x="435.6" y="431.2" textLength="26.1" lengthAdjust="spacingAndGlyphs" font-size="8.0">LOWER</text><text x="437.7" y="440.1" textLength="21.0" lengthAdjust="spacingAndGlyphs" font-size="8.0">BACK</text><text x="437.7" y="469.9" textLength="16.9" lengthAdjust="spacingAndGlyphs" font-size="8.4">HIPS</text><text x="428.5" y="505.4" textLength="27.9" lengthAdjust="spacingAndGlyphs" font-size="8.4">THIGHS</text><text x="417.9" y="574.3" textLength="22.2" lengthAdjust="spacingAndGlyphs" font-size="8.0">TIMER</text>
</g>
</g>
</svg>

<!-- LEFT TEXT -->
<div class="h" style="left:10px;top:35px">Power Button</div>
<div class="t" style="left:10px;top:64px">Press to put the
massager in standby
state.Press again to
turn off the device.</div>

<div class="h" style="left:9px;top:293px">Mode Indicators</div>
<div class="t" style="left:10px;top:332px;line-height:20px"><span class="b" style="font-size:18px">Mode Descriptions:</span>
<span class="b">M1:</span>
cycles through various
massage patterns.

<span class="b">M2:</span>
short bursts of vibration.

<span class="b">M3:</span>
moves through each area,
from upper back to
thighs, and then repeats
at short intervals.

<span class="b">M4:</span>
vibration increases and
decreases at regular
intervals.

<span class="b">M5:</span>
constant vibration.</div>

<!-- RIGHT TEXT -->
<div class="h" style="left:603px;top:32px">Heat Button</div>
<div class="t" style="left:603px;top:60px;line-height:19px">Press to activate heat.
press to cycle through
Low/High Heating or
turn off heat settings.
The heat can be used
independently</div>

<div class="h" style="left:603px;top:204px">Intensity Button</div>
<div class="t" style="left:603px;top:231px;line-height:19.2px">Press to choose
vibration intensity
(4 levels optional).</div>

<div class="h" style="left:603px;top:315px">Mode Button</div>
<div class="t" style="left:603px;top:342px;line-height:19px">Press to change or
off the mode.</div>

<div class="h" style="left:603px;top:436px">Massage Regions</div>
<div class="t" style="left:603px;top:467px;line-height:19px">Each massage region
may be turned off or
on as desired, for any
combination of
regions.</div>

<div class="h" style="left:603px;top:647px">Timer Button</div>
<div class="t" style="left:603px;top:676px;line-height:19px">Press to set the
massage/ heat time
at 30, 60, or 90
minutes.</div>
</body></html>
